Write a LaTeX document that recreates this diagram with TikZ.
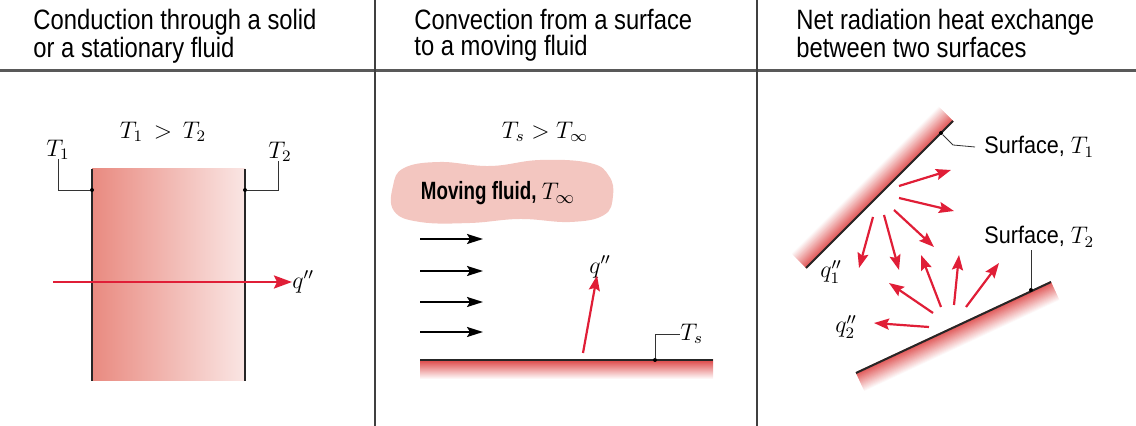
\documentclass[tikz,border=0pt]{standalone}
\usepackage{fontspec}
\setmainfont{Liberation Sans}
\newfontfamily\headfont[FakeStretch=0.85]{Liberation Sans}
\newfontfamily\labfont[FakeStretch=0.9]{Liberation Sans}
\newfontfamily\fluidfont[FakeStretch=0.75]{Liberation Sans}
\usetikzlibrary{arrows.meta,calc}

\definecolor{heatred}{RGB}{224,30,55}
\definecolor{surfred}{RGB}{222,72,72}
\definecolor{condleft}{RGB}{233,138,128}
\definecolor{condright}{RGB}{250,230,228}
\definecolor{cloudpink}{RGB}{243,198,192}

\begin{document}
\begin{tikzpicture}[
    x=0.5pt, y=-0.5pt,
    header/.style={font=\headfont\fontsize{14pt}{13pt}\selectfont, align=left, anchor=north west, inner sep=0pt},
    mathlab/.style={font=\fontsize{12pt}{14pt}\selectfont, inner sep=0pt},
    surflab/.style={font=\labfont\fontsize{12pt}{14pt}\selectfont, anchor=west, inner sep=0pt},
    divider/.style={line width=1pt, black!75},
    wall/.style={line width=1pt, black!85},
    leader/.style={line width=0.4pt, black!80},
    heat/.style={-{Stealth[length=7.5pt, width=5.5pt, inset=1.2pt]}, line width=1.1pt, heatred},
    flow/.style={-{Stealth[length=8pt, width=5pt, inset=1.5pt]}, line width=0.9pt, black},
    dot/.style={circle, fill=black, inner sep=0pt, minimum size=2pt},
]
    \useasboundingbox (0,0) rectangle (1136,426);

    % Frame: header rule and column dividers
    \draw[line width=1.5pt, black!65] (0,71) -- (1136,71);
    \draw[divider] (375,0) -- (375,426);
    \draw[divider] (757,0) -- (757,426);

    \node[header] (hcond) at (33,9) {Conduction through a solid\\or a stationary fluid};
    \node[header] (hconv) at (414,9) {Convection from a surface\\to a moving fluid};
    \node[header] (hrad) at (796,9) {Net radiation heat exchange\\between two surfaces};

    % Conduction
    \shade[left color=condleft, right color=condright] (92,169) rectangle (245,381);
    \draw[wall] (92,169) -- (92,381);
    \draw[wall] (245,169) -- (245,381);
    \node[mathlab] (cond) at (163,132) {$T_1 \,>\, T_2$};
    \node[mathlab] (t1lab) at (58,150) {$T_1$};
    \node[mathlab] (t2lab) at (280,152) {$T_2$};
    \node[dot] (t1dot) at (92,190) {};
    \node[dot] (t2dot) at (245,190) {};
    \draw[leader] (t1dot) -| ($(t1lab.south)+(0,-1)$);
    \draw[leader] (t2dot) -| ($(t2lab.south)+(-2,-1)$);
    \coordinate (qin) at (53,282);
    \node[mathlab, anchor=west] (qcond) at (292,282) {$q''$};
    \draw[heat, line width=1.2pt, -{Stealth[length=9pt, width=6.5pt, inset=1.5pt]}] (qin) -- (qcond.west);

    % Convection
    \node[mathlab] (conv) at (545,132) {$T_s > T_\infty$};
    \fill[cloudpink] plot[smooth cycle, tension=0.7] coordinates {
        (393,186) (404,168) (440,162) (490,166) (540,160) (590,163)
        (609,176) (613,196) (604,215) (570,222) (520,219) (470,223)
        (420,222) (394,211)};
    \node[font=\fluidfont\bfseries\fontsize{12.5pt}{14pt}\selectfont, inner sep=0pt] (fluid) at (498,193) {Moving fluid, \normalfont\fontsize{13pt}{14pt}\selectfont$T_\infty$};
    \foreach \y in {239,271,302,332}
        \draw[flow] (420,\y) -- (483,\y);
    \shade[top color=surfred, bottom color=white] (420,360) rectangle (713,379);
    \draw[wall] (420,360) -- (713,360);
    \node[dot] (tsdot) at (655,360) {};
    \node[mathlab, anchor=west] (tslab) at (680,334) {$T_s$};
    \draw[leader] (tsdot) |- (tslab.west);
    \coordinate (qbase) at (583,353);
    \node[mathlab] (qconv) at (600,267) {$q''$};
    \draw[heat] (qbase) -- ($(qconv.south)+(-3,-3)$);

    % Radiation: two surfaces with shaded backs
    \coordinate (u1) at (806,268);
    \coordinate (u2) at (953,121);
    \coordinate (l1) at (856,373);
    \coordinate (l2) at (1051,282);
    \foreach \i in {20,19,...,0}{
        \pgfmathsetmacro\p{92-4.6*\i}
        \draw[surfred!\p, line width=0.8pt] ($(u1)+(-0.705*\i,-0.71*\i)$) -- ($(u2)+(-0.705*\i,-0.71*\i)$);
        \draw[surfred!\p, line width=0.8pt] ($(l1)+(0.421*\i,0.907*\i)$) -- ($(l2)+(0.421*\i,0.907*\i)$);
    }
    \draw[wall] (u1) -- (u2);
    \draw[wall] (l1) -- (l2);

    \node[dot] (s1dot) at (941,133) {};
    \node[surflab] (s1lab) at (984,147) {Surface, $T_1$};
    \draw[leader] (s1dot) -- (953,145) -- (s1lab.west -| 975,0);
    \node[dot] (s2dot) at (1031,290) {};
    \node[surflab] (s2lab) at (984,237) {Surface, $T_2$};
    \draw[leader] (s2dot) -- (1031,250);

    \node[mathlab] (q1lab) at (831,272) {$q''_1$};
    \node[mathlab] (q2lab) at (846,327) {$q''_2$};

    % emitted from the upper surface
    \draw[heat] (899,186) -- (951,170);
    \draw[heat] (899,198) -- (954,211);
    \draw[heat] (894,210) -- (934,247);
    \draw[heat] (884,215) -- (899,270);
    \draw[heat] (873,217) -- (859,268);
    % emitted from the lower surface
    \draw[heat] (941,307) -- (921,255);
    \draw[heat] (954,305) -- (959,255);
    \draw[heat] (966,307) -- (999,263);
    \draw[heat] (933,313) -- (889,283);
    \draw[heat] (929,327) -- (874,323);
\end{tikzpicture}
\end{document}
